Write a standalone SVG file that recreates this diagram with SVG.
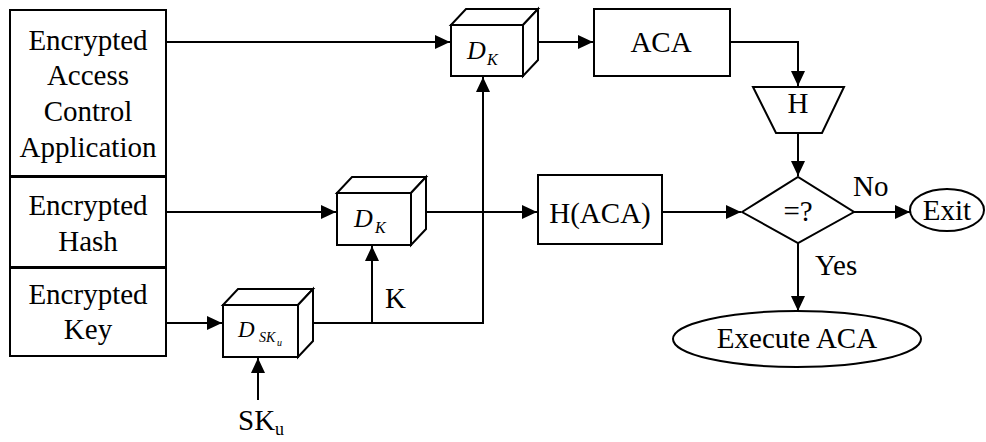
<svg xmlns="http://www.w3.org/2000/svg" width="986" height="442" viewBox="0 0 986 442">
<style>
.s{fill:#fff;stroke:#000;stroke-width:2}
.t{font-family:'Liberation Serif','DejaVu Serif',serif;font-size:29px;fill:#000;text-anchor:middle}
.l{font-family:'Liberation Serif','DejaVu Serif',serif;font-size:29px;fill:#000}
.i{font-family:'Liberation Serif','DejaVu Serif',serif;font-style:italic;fill:#000}
.c{fill:none;stroke:#000;stroke-width:2}
</style>
<defs>
<marker id="a" markerUnits="userSpaceOnUse" markerWidth="16" markerHeight="14" refX="15" refY="7" orient="auto">
<path d="M0,0 L15,7 L0,14 Z" fill="#000"/>
</marker>
</defs>
<rect width="986" height="442" fill="#fff"/>
<g id="connectors">
<path class="c" d="M167,42 H450" marker-end="url(#a)"/>
<path class="c" d="M538,42 H593" marker-end="url(#a)"/>
<path class="c" d="M730,42 H798 V86" marker-end="url(#a)"/>
<path class="c" d="M798,133 V176" marker-end="url(#a)"/>
<path class="c" d="M167,212 H336" marker-end="url(#a)"/>
<path class="c" d="M426,212 H537" marker-end="url(#a)"/>
<path class="c" d="M662,212 H741" marker-end="url(#a)"/>
<path class="c" d="M854,212 H910" marker-end="url(#a)"/>
<path class="c" d="M798,243 V311" marker-end="url(#a)"/>
<path class="c" d="M167,323 H222" marker-end="url(#a)"/>
<path class="c" d="M313,323 H483 V77" marker-end="url(#a)"/>
<path class="c" d="M372,323 V246" marker-end="url(#a)"/>
<path class="c" d="M258,400 V358" marker-end="url(#a)"/>
<text class="l" x="385" y="308">K</text>
<text class="l" x="853" y="196">No</text>
<text class="l" x="815" y="275">Yes</text>
</g>
<g id="enc-aca">
<rect class="s" x="10" y="10" width="156" height="166"/>
<text class="t" x="88" y="50">Encrypted</text>
<text class="t" x="88" y="85">Access</text>
<text class="t" x="88" y="121">Control</text>
<text class="t" x="88" y="157">Application</text>
</g>
<g id="enc-hash">
<rect class="s" x="10" y="177" width="156" height="90"/>
<text class="t" x="88" y="215">Encrypted</text>
<text class="t" x="88" y="251">Hash</text>
</g>
<g id="enc-key">
<rect class="s" x="10" y="268" width="156" height="88"/>
<text class="t" x="88" y="304">Encrypted</text>
<text class="t" x="88" y="339">Key</text>
</g>
<g id="dk-top">
<rect class="s" x="451" y="25" width="72" height="51"/>
<polygon class="s" points="451,25 466,9 538,9 523,25"/>
<polygon class="s" points="523,25 538,9 538,60 523,76"/>
<text class="i" x="467" y="59" font-size="26">D</text>
<text class="i" x="487" y="65" font-size="16">K</text>
</g>
<g id="dk-mid">
<rect class="s" x="337" y="193" width="74" height="52"/>
<polygon class="s" points="337,193 352,177 426,177 411,193"/>
<polygon class="s" points="411,193 426,177 426,229 411,245"/>
<text class="i" x="354" y="227" font-size="26">D</text>
<text class="i" x="375" y="233" font-size="16">K</text>
</g>
<g id="dsku">
<rect class="s" x="223" y="305" width="75" height="52"/>
<polygon class="s" points="223,305 238,289 313,289 298,305"/>
<polygon class="s" points="298,305 313,289 313,341 298,357"/>
<text class="i" x="238" y="337" font-size="23">D</text>
<text class="i" x="259" y="342" font-size="14">SK</text>
<text class="i" x="277" y="346" font-size="10">u</text>
</g>
<g id="sku">
<text class="l" x="238" y="430">SK<tspan font-size="18" dy="5">u</tspan></text>
</g>
<g id="aca">
<rect class="s" x="594" y="9" width="136" height="67"/>
<text class="t" x="661" y="52">ACA</text>
</g>
<g id="hash">
<polygon class="s" points="753,87 844,87 822,133 776,133"/>
<text class="t" x="798" y="113">H</text>
</g>
<g id="haca">
<rect class="s" x="538" y="175" width="124" height="69"/>
<text class="t" x="600" y="223">H(ACA)</text>
</g>
<g id="cmp">
<polygon class="s" points="742,212 798,177 854,212 798,243"/>
<text class="t" x="798" y="221">=?</text>
</g>
<g id="exit">
<ellipse class="s" cx="947" cy="210" rx="37" ry="21"/>
<text class="t" x="947" y="220">Exit</text>
</g>
<g id="exec">
<ellipse class="s" cx="797" cy="339" rx="124" ry="28"/>
<text class="t" x="797" y="348">Execute ACA</text>
</g>
</svg>
